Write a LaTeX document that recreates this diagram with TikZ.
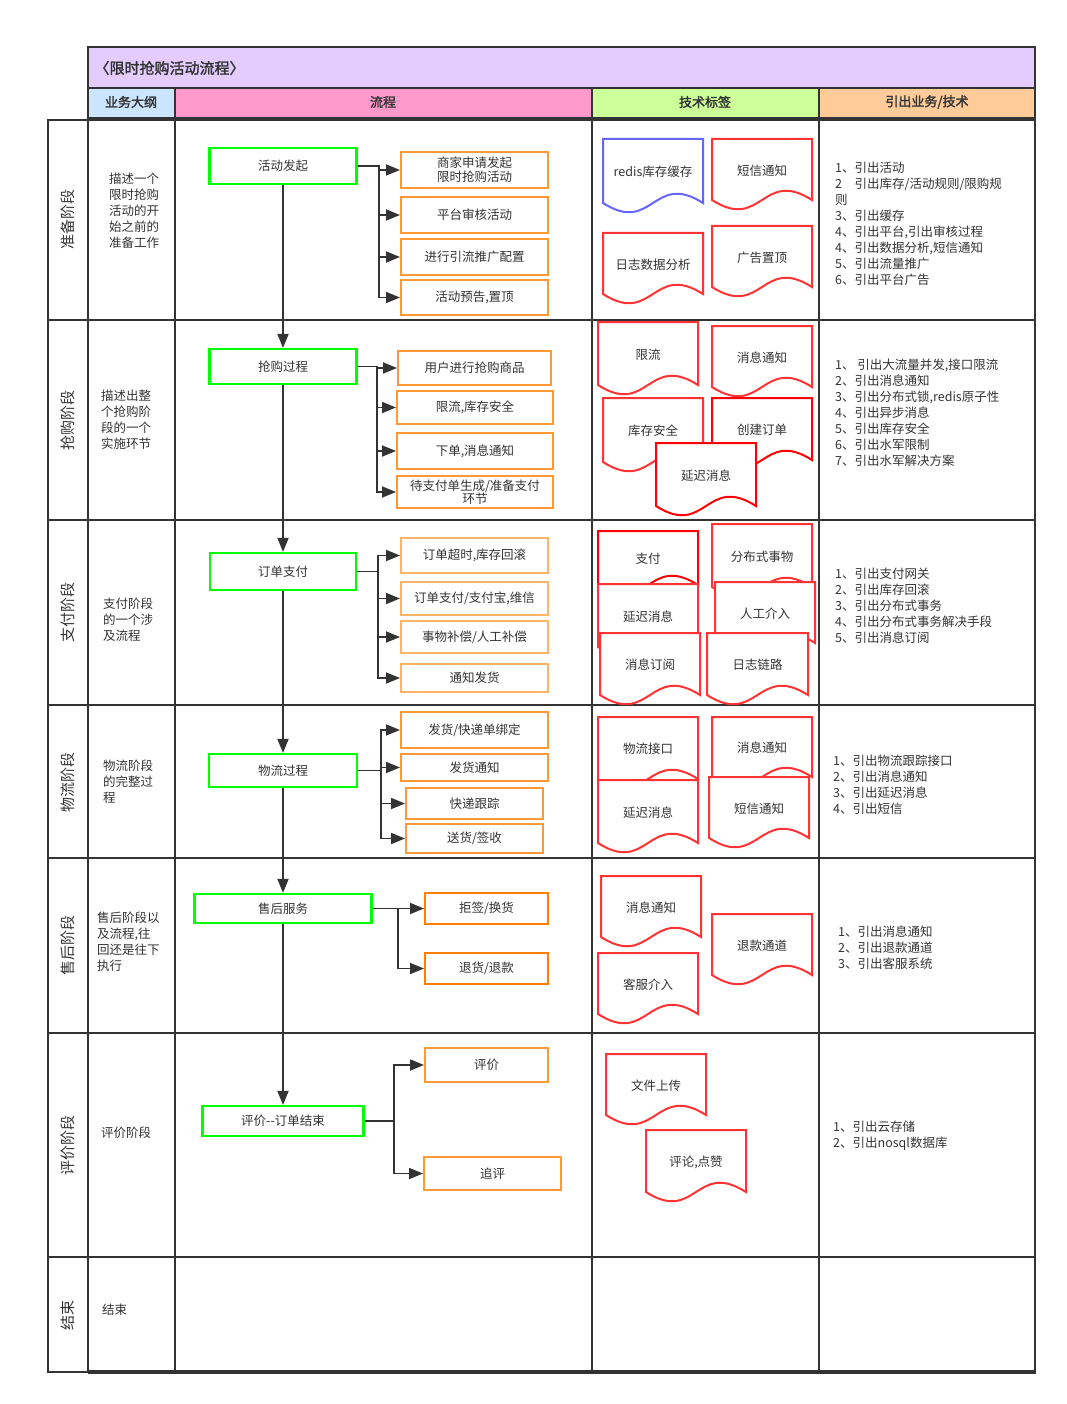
\documentclass[tikz,border=0pt]{standalone}
\usepackage{fontspec}
\setmainfont[AutoFakeBold=2]{Noto Sans CJK SC}
\usepackage{tikz}
\usetikzlibrary{arrows.meta, calc}
\definecolor{linegray}{HTML}{333333}
\definecolor{textgray}{HTML}{333333}
\definecolor{titlepurple}{HTML}{E5CCFF}
\definecolor{headblue}{HTML}{CCE5FF}
\definecolor{headpink}{HTML}{FF99CC}
\definecolor{headgreen}{HTML}{CCFF99}
\definecolor{headpeach}{HTML}{FFCC99}
\definecolor{stagegreen}{HTML}{00FF00}
\definecolor{taskorange}{HTML}{FF9933}
\definecolor{tasklight}{HTML}{FFB366}
\definecolor{taskdeep}{HTML}{FF8000}
\definecolor{tagred}{HTML}{FF3333}
\definecolor{tagpure}{HTML}{FF0000}
\definecolor{tagblue}{HTML}{6666FF}

\tikzset{
  lane/.style={draw=linegray, line width=2.4pt},
  stagebox/.style={draw=stagegreen, line width=2.2pt, fill=white, inner sep=0pt,
    font=\fontsize{12.5}{15}\selectfont, text=textgray},
  taskbox/.style={draw=taskorange, line width=2pt, fill=white, inner sep=0pt,
    align=center, font=\fontsize{12.5}{15}\selectfont, text=textgray},
  flow/.style={draw=linegray, line width=1.8pt, -{Triangle[length=14pt,width=11pt]}},
  outline/.style={anchor=west, align=left, inner sep=0pt, font=\fontsize{12.5}{16}\selectfont, text=textgray},
  notes/.style={anchor=west, align=left, inner sep=0pt, font=\fontsize{12.5}{16}\selectfont, text=textgray},
  lanelabel/.style={rotate=90, font=\fontsize{15}{18}\selectfont, text=textgray},
  headtext/.style={font=\fontsize{13}{15}\selectfont\bfseries, text=textgray},
  tagline/.style={line width=2pt},
  tagtext/.style={font=\fontsize{12.5}{15}\selectfont, text=textgray}
}

\begin{document}
\begin{tikzpicture}[x=1pt, y=-1pt]
    \useasboundingbox (0,0) rectangle (1067,1404);

    % Title and column headers
    \filldraw[lane, fill=titlepurple] (88,47) rectangle (1035,88);
    \node[font=\fontsize{15}{18}\selectfont\bfseries, text=textgray, anchor=west] (title)
      at (91,68) {〈限时抢购活动流程〉};
    \filldraw[lane, fill=headblue] (88,88) rectangle (175,118);
    \filldraw[lane, fill=headpink] (175,88) rectangle (592,118);
    \filldraw[lane, fill=headgreen] (592,88) rectangle (819,118);
    \filldraw[lane, fill=headpeach] (819,88) rectangle (1035,118);
    \node[headtext] (hOutline) at (131,102) {业务大纲};
    \node[headtext] (hFlow) at (383,102) {流程};
    \node[headtext] (hTags) at (705,102) {技术标签};
    \node[headtext] (hNotes) at (927,102) {引出业务/技术};

    % Swimlane grid
    \draw[lane] (48,120) rectangle (1035,1372);
    \foreach \y in {320, 520, 705, 858, 1033, 1257}
      \draw[lane] (48,\y) -- (1035,\y);
    \foreach \x in {88, 175, 592, 819}
      \draw[lane] (\x,118) -- (\x,1372);
    \draw[draw=linegray, line width=4pt] (88,1372) -- (1036,1372);

    % Lane labels
    \node[lanelabel] (lPrep) at (68,220) {准备阶段};
    \node[lanelabel] (lGrab) at (68,420) {抢购阶段};
    \node[lanelabel] (lPay) at (68,612) {支付阶段};
    \node[lanelabel] (lShip) at (68,782) {物流阶段};
    \node[lanelabel] (lAfter) at (68,945) {售后阶段};
    \node[lanelabel] (lRate) at (68,1145) {评价阶段};
    \node[lanelabel] (lEnd) at (68,1315) {结束};

    % Business outline
    \node[outline] (oPrep) at (109,211) {描述一个\\限时抢购\\活动的开\\始之前的\\准备工作};
    \node[outline] (oGrab) at (101,420) {描述出整\\个抢购阶\\段的一个\\实施环节};
    \node[outline] (oPay) at (103,620) {支付阶段\\的一个涉\\及流程};
    \node[outline] (oShip) at (103,782) {物流阶段\\的完整过\\程};
    \node[outline] (oAfter) at (97,942) {售后阶段以\\及流程,往\\回还是往下\\执行};
    \node[outline] (oRate) at (101,1133) {评价阶段};
    \node[outline] (oEnd) at (102,1310) {结束};

    % Main stages
    \node[stagebox, minimum width=147pt, minimum height=36pt] (act) at (283,166) {活动发起};
    \node[stagebox, minimum width=147pt, minimum height=35pt] (grab) at (283,366.5) {抢购过程};
    \node[stagebox, minimum width=146pt, minimum height=37pt] (pay) at (283,571.5) {订单支付};
    \node[stagebox, minimum width=148pt, minimum height=33pt] (ship) at (283,770.5) {物流过程};
    \node[stagebox, minimum width=177pt, minimum height=29pt] (after) at (283,908.5) {售后服务};
    \node[stagebox, minimum width=161pt, minimum height=30pt] (rate) at (283,1121) {评价-{}-订单结束};

    \draw[flow] (act) -- (grab);
    \draw[flow] (grab) -- (pay);
    \draw[flow] (pay) -- (ship);
    \draw[flow] (ship) -- (after);
    \draw[flow] (after) -- (rate);

    % Sub tasks
    \node[taskbox, minimum width=147pt, minimum height=36pt] (a1) at (474.5,170)
      {商家申请发起\\[-1pt]限时抢购活动};
    \node[taskbox, minimum width=147pt, minimum height=36pt] (a2) at (474.5,215) {平台审核活动};
    \node[taskbox, minimum width=147pt, minimum height=36pt] (a3) at (474.5,257) {进行引流推广配置};
    \node[taskbox, minimum width=147pt, minimum height=35pt] (a4) at (474.5,297.5) {活动预告,置顶};

    \node[taskbox, minimum width=153pt, minimum height=34pt] (b1) at (474.5,368) {用户进行抢购商品};
    \node[taskbox, minimum width=156pt, minimum height=33pt] (b2) at (475,407.5) {限流,库存安全};
    \node[taskbox, minimum width=156pt, minimum height=36pt] (b3) at (475,451) {下单,消息通知};
    \node[taskbox, minimum width=156pt, minimum height=32pt] (b4) at (475,492)
      {待支付单生成/准备支付\\[-2pt]环节};

    \node[taskbox, draw=tasklight, minimum width=147pt, minimum height=35pt] (c1) at (474.5,555.5)
      {订单超时,库存回滚};
    \node[taskbox, draw=tasklight, minimum width=147pt, minimum height=33pt] (c2) at (474.5,598.5)
      {订单支付/支付宝,维信};
    \node[taskbox, draw=tasklight, minimum width=147pt, minimum height=32pt] (c3) at (474.5,637)
      {事物补偿/人工补偿};
    \node[taskbox, draw=tasklight, minimum width=147pt, minimum height=28pt] (c4) at (474.5,678)
      {通知发货};

    \node[taskbox, minimum width=147pt, minimum height=36pt] (d1) at (474.5,730) {发货/快递单绑定};
    \node[taskbox, minimum width=147pt, minimum height=27pt] (d2) at (474.5,767.5) {发货通知};
    \node[taskbox, minimum width=137pt, minimum height=31pt] (d3) at (474.5,803.5) {快递跟踪};
    \node[taskbox, minimum width=137pt, minimum height=29pt] (d4) at (474.5,838.5) {送货/签收};

    \node[taskbox, draw=taskdeep, minimum width=123pt, minimum height=31pt] (e1) at (486.5,908.5) {拒签/换货};
    \node[taskbox, draw=taskdeep, minimum width=123pt, minimum height=31pt] (e2) at (486.5,968.5) {退货/退款};

    \node[taskbox, minimum width=123pt, minimum height=34pt] (f1) at (486.5,1065) {评价};
    \node[taskbox, minimum width=137pt, minimum height=33pt] (f2) at (492.5,1173.5) {追评};

    % Branch buses
    \coordinate (busA) at (379,0);
    \coordinate (busB) at (377,0);
    \coordinate (busC) at (378,0);
    \coordinate (busD) at (381,0);
    \coordinate (busE) at (398,0);
    \coordinate (busF) at (394,0);
    \foreach \t in {a1,a2,a3,a4}
      \draw[flow] (act.east) -- (act.east -| busA) |- (\t.west);
    \foreach \t in {b1,b2,b3,b4}
      \draw[flow] (grab.east) -- (grab.east -| busB) |- (\t.west);
    \foreach \t in {c1,c2,c3,c4}
      \draw[flow] (pay.east) -- (pay.east -| busC) |- (\t.west);
    \foreach \t in {d1,d2,d3,d4}
      \draw[flow] (ship.east) -- (ship.east -| busD) |- (\t.west);
    \foreach \t in {e1,e2}
      \draw[flow] (after.east) -- (after.east -| busE) |- (\t.west);
    \foreach \t in {f1,f2}
      \draw[flow] (rate.east) -- (rate.east -| busF) |- (\t.west);

    % Tech tags (document shapes, later ones drawn on top)
    \foreach \nm/\xa/\ya/\xb/\yb/\col/\txt in {
        tRedis/603/139/703/203/tagblue/redis库存缓存,
        tSms/712/139/812/200/tagred/短信通知,
        tLog/603/233/703/294/tagred/日志数据分析,
        tAd/712/226/812/287/tagred/广告置顶,
        tLimit/598/322/698/385/tagred/限流,
        tMsgA/712/326/812/387/tagred/消息通知,
        tStock/603/398/703/462/tagred/库存安全,
        tOrder/712/398/812/460/tagpure/创建订单,
        tDelayA/656/443/756/506/tagpure/延迟消息,
        tPay/598/531/698/585/tagpure/支付,
        tTrans/712/524/812/587/tagred/分布式事物,
        tDelayB/598/584/698/647/tagred/延迟消息,
        tManual/715/582/815/643/tagred/人工介入,
        tSub/600/633/700/695/tagred/消息订阅,
        tTrace/707/633/808/695/tagred/日志链路,
        tShipApi/598/717/698/779/tagred/物流接口,
        tMsgB/712/717/812/777/tagred/消息通知,
        tDelayC/598/780/698/843/tagred/延迟消息,
        tSmsB/709/777/809/838/tagred/短信通知,
        tMsgC/601/876/701/937/tagred/消息通知,
        tRefund/712/914/812/975/tagred/退款通道,
        tService/598/953/698/1014/tagred/客服介入,
        tUpload/606/1054/706/1115/tagred/文件上传,
        tLike/646/1130/746/1192/tagred/{评论,点赞}}
    {
      \pgfmathsetmacro\xm{(\xa+\xb)/2}
      \filldraw[tagline, draw=\col, fill=white] (\xa,\ya) -- (\xb,\ya) -- (\xb,\yb)
        .. controls (\xm,{\yb-32}) and (\xm,{\yb+32}) .. (\xa,\yb) -- cycle;
      \node[tagtext] (\nm) at (\xm,{(\ya+\yb)/2+1}) {\txt};
    }

    % Notes
    \node[notes] (nPrep) at (835,224)
      {1、引出活动\\2　引出库存/活动规则/限购规\\则\\3、引出缓存\\4、引出平台,引出审核过程\\
       4、引出数据分析,短信通知\\5、引出流量推广\\6、引出平台广告};
    \node[notes] (nGrab) at (835,413)
      {1、 引出大流量并发,接口限流\\2、引出消息通知\\3、引出分布式锁,redis原子性\\4、引出异步消息\\
       5、引出库存安全\\6、引出水军限制\\7、引出水军解决方案};
    \node[notes] (nPay) at (835,606)
      {1、引出支付网关\\2、引出库存回滚\\3、引出分布式事务\\4、引出分布式事务解决手段\\5、引出消息订阅};
    \node[notes] (nShip) at (833,785)
      {1、引出物流跟踪接口\\2、引出消息通知\\3、引出延迟消息\\4、引出短信};
    \node[notes] (nAfter) at (838,948)
      {1、引出消息通知\\2、引出退款通道\\3、引出客服系统};
    \node[notes] (nRate) at (833,1136)
      {1、引出云存储\\2、引出nosql数据库};
\end{tikzpicture}
\end{document}
